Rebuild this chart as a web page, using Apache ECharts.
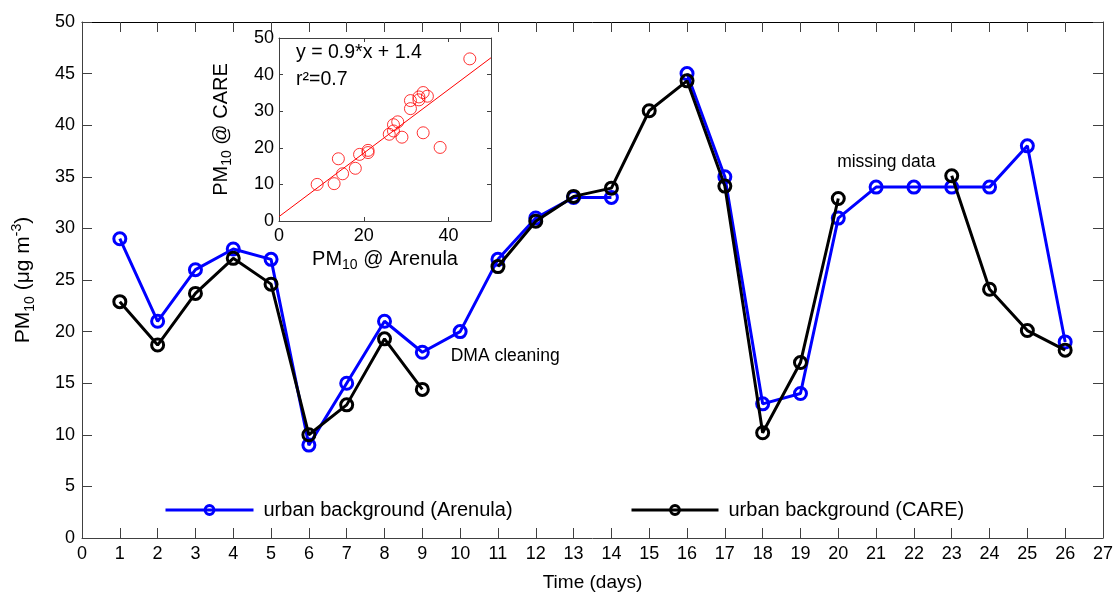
<!DOCTYPE html>
<html><head><meta charset="utf-8">
<script src="https://cdn.jsdelivr.net/npm/echarts@6/dist/echarts.min.js"></script>
<style>html,body{margin:0;padding:0;background:#fff}#c{width:1116px;height:597px}</style>
</head><body><div id="c"></div>
<script>
// ---- data ----
const days = [1,2,3,4,5,6,7,8,9,10,11,12,13,14,15,16,17,18,19,20,21,22,23,24,25,26];
const arenula = [29,21,26,28,27,9,15,21,18,20,27,31,33,33,null,45,35,13,14,31,34,34,34,34,38,19];
const care = [22.9,18.7,23.7,27.1,24.6,10.0,12.9,19.3,14.4,null,26.3,30.7,33.1,33.9,41.4,44.3,34.1,10.2,17.0,32.9,null,null,35.1,24.1,20.1,18.2];
const fitLine = [[0,1.2],[50,44.6]];
const seriesNames = ['urban background (Arenula)','urban background (CARE)'];
const fitText = 'y = 0.9*x + 1.4';
const r2Text = 'r\u00B2=0.7';
const annotations = [
  {text:'DMA cleaning', at:[9.75,17.6]},
  {text:'missing data', at:[19.97,36.4]}
];

const FF = '"Liberation Sans", Arial, sans-serif';
const AX = '#404040';
const chart = echarts.init(document.getElementById('c'), null, {renderer:'canvas'});

const mainPts = (arr) => days.map((d,i)=>[d, arr[i]]);
const scatterPts = [];
days.forEach((d,i)=>{ if(arenula[i]!=null && care[i]!=null) scatterPts.push([arenula[i], care[i]]); });

function axisBase(extra){
  return Object.assign({
    type:'value',
    axisLine:{show:true, onZero:false, lineStyle:{color:AX, width:1}},
    splitLine:{show:false},
  }, extra);
}
const richName = (fs) => ({
  n:{fontSize:fs, fontFamily:FF, color:'#000', lineHeight:fs+6},
  s:{fontSize:Math.round(fs*0.68), fontFamily:FF, color:'#000', lineHeight:Math.round(fs*0.68), verticalAlign:'bottom'},
  p:{fontSize:Math.round(fs*0.68), fontFamily:FF, color:'#000', lineHeight:Math.round(fs*0.68), verticalAlign:'top'}
});

const option = {
  animation:false,
  backgroundColor:'#fff',
  textStyle:{fontFamily:FF},
  grid:[
    {left:82, right:12, top:22, bottom:53, containLabel:false},
    {left:279, top:38, width:212, height:183, show:true, backgroundColor:'#fff', borderWidth:0, containLabel:false}
  ],
  xAxis:[
    axisBase({gridIndex:0, min:0, max:27, interval:1, position:'bottom',
      axisTick:{inside:true, length:10, lineStyle:{color:AX}},
      axisLabel:{fontSize:18, color:'#000', margin:7, fontFamily:FF},
      name:'Time (days)', nameLocation:'middle', nameGap:35,
      nameTextStyle:{fontSize:19, color:'#000', fontFamily:FF}}),
    axisBase({gridIndex:0, min:0, max:27, interval:1, position:'top',
      axisLine:{show:true, onZero:false, lineStyle:{color:'#000', width:1}},
      axisTick:{inside:true, length:10, lineStyle:{color:AX}}, axisLabel:{show:false}}),
    axisBase({gridIndex:1, min:0, max:50, interval:20, position:'bottom',
      axisTick:{inside:true, length:4, lineStyle:{color:AX}},
      axisLabel:{fontSize:18, color:'#000', margin:6, fontFamily:FF, showMaxLabel:false},
      name:'{n|PM}{s|10}{n| @ Arenula}', nameLocation:'middle', nameGap:25,
      nameTextStyle:{rich:richName(20)}}),
    axisBase({gridIndex:1, min:0, max:50, interval:20, position:'top',
      axisTick:{inside:true, length:4, lineStyle:{color:AX}}, axisLabel:{show:false}})
  ],
  yAxis:[
    axisBase({gridIndex:0, min:0, max:50, interval:5, position:'left',
      axisTick:{inside:true, length:10, lineStyle:{color:AX}},
      axisLabel:{fontSize:18, color:'#000', margin:7, fontFamily:FF},
      name:'{n|PM}{s|10}{n| (\u03BCg m}{p|-3}{n|)}', nameLocation:'middle', nameGap:45, nameRotate:90,
      nameTextStyle:{rich:richName(21)}}),
    axisBase({gridIndex:0, min:0, max:50, interval:5, position:'right',
      axisTick:{inside:true, length:10, lineStyle:{color:AX}}, axisLabel:{show:false}}),
    axisBase({gridIndex:1, min:0, max:50, interval:10, position:'left',
      axisTick:{inside:true, length:4, lineStyle:{color:AX}},
      axisLabel:{fontSize:18, color:'#000', margin:5, fontFamily:FF},
      name:'{n|PM}{s|10}{n| @ CARE}', nameLocation:'middle', nameGap:45, nameRotate:90,
      nameTextStyle:{rich:richName(20)}}),
    axisBase({gridIndex:1, min:0, max:50, interval:10, position:'right',
      axisTick:{inside:true, length:4, lineStyle:{color:AX}}, axisLabel:{show:false}})
  ],
  legend:[
    {data:[seriesNames[0]], left:164, top:500, padding:0, itemWidth:88, itemHeight:11,
      lineStyle:{width:3, color:'#0000ff'}, itemStyle:{borderWidth:3, borderColor:'#0000ff', color:'rgba(0,0,0,0)'},
      textStyle:{fontSize:20, color:'#000', fontFamily:FF, padding:[0,0,0,5]}, selectedMode:false},
    {data:[seriesNames[1]], left:630, top:500, padding:0, itemWidth:87, itemHeight:11,
      lineStyle:{width:3, color:'#000000'}, itemStyle:{borderWidth:3, borderColor:'#000000', color:'rgba(0,0,0,0)'},
      textStyle:{fontSize:20, color:'#000', fontFamily:FF, padding:[0,0,0,5]}, selectedMode:false}
  ],
  series:[
    {name:seriesNames[0], type:'line', xAxisIndex:0, yAxisIndex:0, data:mainPts(arenula),
      symbol:'circle', symbolSize:12, connectNulls:false,
      itemStyle:{color:'rgba(0,0,0,0)', borderColor:'#0000ff', borderWidth:3},
      lineStyle:{color:'#0000ff', width:3}, emphasis:{disabled:true}, z:3},
    {name:seriesNames[1], type:'line', xAxisIndex:0, yAxisIndex:0, data:mainPts(care),
      symbol:'circle', symbolSize:12, connectNulls:false,
      itemStyle:{color:'rgba(0,0,0,0)', borderColor:'#000000', borderWidth:3},
      lineStyle:{color:'#000000', width:3}, emphasis:{disabled:true}, z:4},
    {name:'fit', type:'line', xAxisIndex:2, yAxisIndex:2, data:fitLine, symbol:'none',
      lineStyle:{color:'#ff0000', width:1}, emphasis:{disabled:true}, z:5},
    {name:'scatter', type:'scatter', xAxisIndex:2, yAxisIndex:2, data:scatterPts,
      symbol:'circle', symbolSize:12,
      itemStyle:{color:'rgba(0,0,0,0)', borderColor:'#ff0000', borderWidth:1},
      emphasis:{disabled:true}, z:6}
  ]
};
chart.setOption(option);

const g = [];
annotations.forEach(a=>{
  const p = chart.convertToPixel({xAxisIndex:0, yAxisIndex:0}, a.at);
  g.push({type:'text', x:p[0], y:p[1], z:100,
    style:{text:a.text, font:'17.5px '+FF, fill:'#000', textAlign:'left', textVerticalAlign:'middle', align:'left', verticalAlign:'middle'}});
});
const q1 = chart.convertToPixel({xAxisIndex:2, yAxisIndex:2}, [0,50]);
g.push({type:'text', x:q1[0]+17, y:q1[1]+15, z:100,
  style:{text:fitText, font:'19.5px '+FF, fill:'#000', textVerticalAlign:'middle', verticalAlign:'middle'}});
g.push({type:'text', x:q1[0]+17, y:q1[1]+42, z:100,
  style:{text:r2Text, font:'19.5px '+FF, fill:'#000', textVerticalAlign:'middle', verticalAlign:'middle'}});
chart.setOption({graphic:g});
</script></body></html>
